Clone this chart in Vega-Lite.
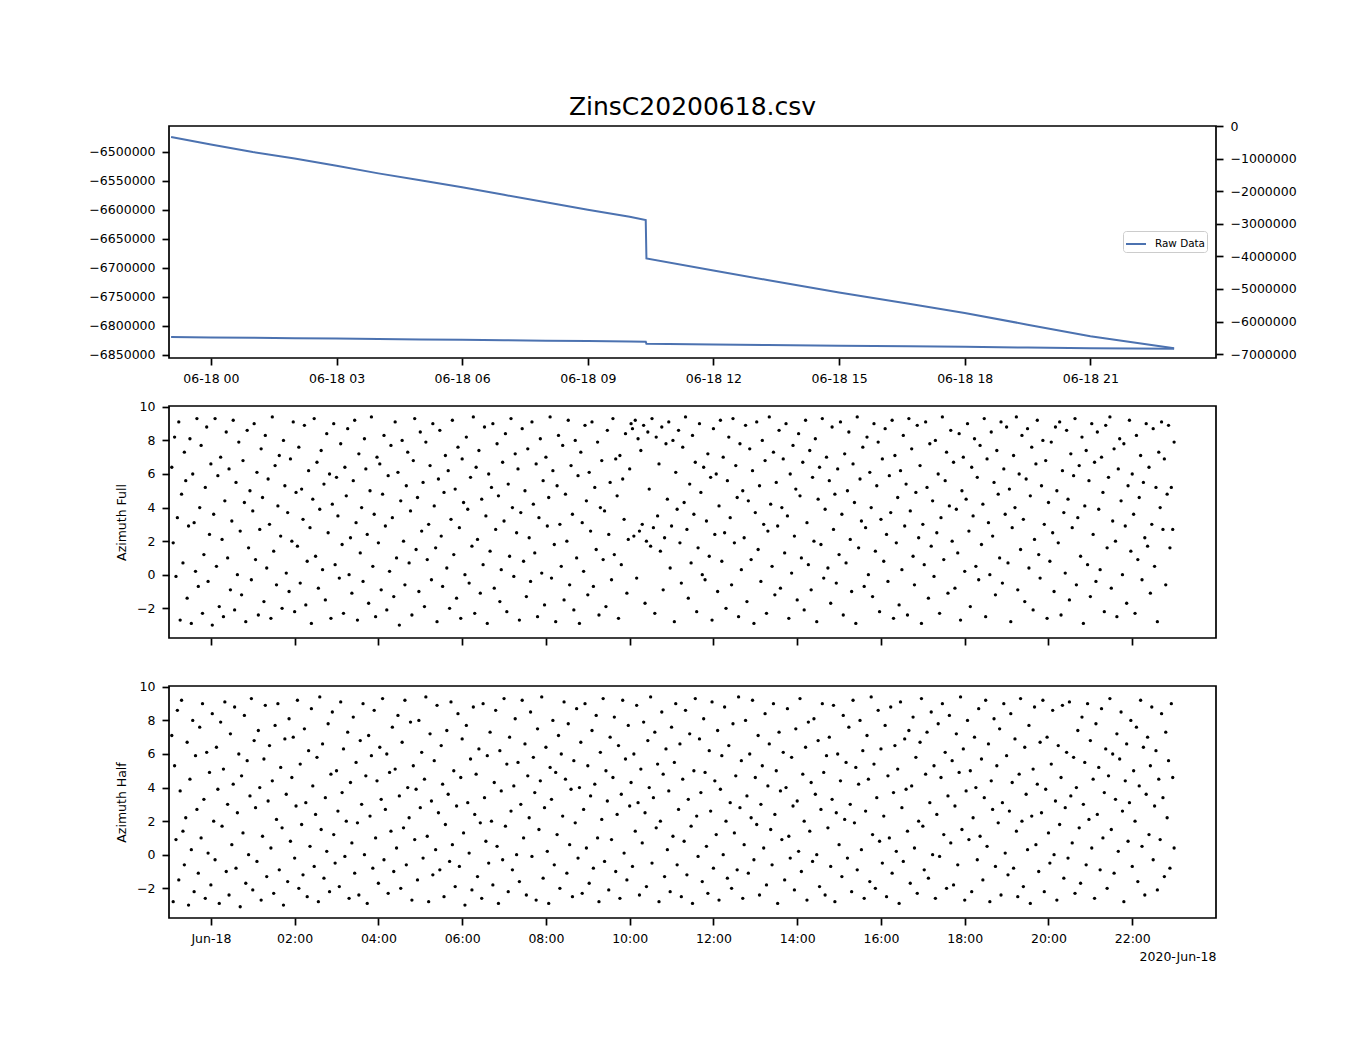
{
  "$schema": "https://vega.github.io/schema/vega-lite/v6.json",
  "padding": {"left": 88, "top": 94, "right": 5, "bottom": 5},
  "background": "white",
  "spacing": 48,
  "bounds": "flush",
  "config": {
    "font": "DejaVu Sans",
    "view": {"stroke": "black", "strokeWidth": 1.7},
    "axis": {
      "domain": false, "grid": false, "ticks": true,
      "tickColor": "black", "tickSize": 7, "tickWidth": 1.7,
      "labelFont": "DejaVu Sans", "labelFontSize": 12.5, "labelColor": "black", "labelPadding": 7,
      "titleFont": "DejaVu Sans", "titleFontSize": 12.5, "titleFontWeight": "normal", "titleColor": "black"
    }
  },
  "datasets": {
    "raw": [
      {"m": -57, "v": -6474800}, {"m": 0, "v": -6487800}, {"m": 60, "v": -6500900}, {"m": 120, "v": -6512000},
      {"m": 180, "v": -6524500}, {"m": 240, "v": -6537700}, {"m": 300, "v": -6549700}, {"m": 360, "v": -6561700},
      {"m": 420, "v": -6574700}, {"m": 480, "v": -6587400}, {"m": 540, "v": -6600400}, {"m": 600, "v": -6612400},
      {"m": 623, "v": -6618000}, {"m": 624, "v": -6684300}, {"m": 720, "v": -6705000}, {"m": 797, "v": -6721500},
      {"m": 900, "v": -6743100}, {"m": 1000, "v": -6762500}, {"m": 1080, "v": -6778500}, {"m": 1170, "v": -6798500},
      {"m": 1260, "v": -6818600}, {"m": 1380, "v": -6839200}
    ],
    "az": [
      {"m":-56,"f":6.4,"h":7.1},{"m":-54,"f":1.9,"h":-2.8},{"m":-52,"f":8.2,"h":5.3},{"m":-50,"f":-0.1,"h":0.9},{"m":-48,"f":3.4,"h":8.6},{"m":-46,"f":9.1,"h":-1.5},{"m":-44,"f":-2.7,"h":3.8},{"m":-42,"f":4.8,"h":9.2},{"m":-40,"f":0.7,"h":1.4},{"m":-38,"f":7.3,"h":-0.6},
      {"m":-36,"f":5.6,"h":2.2},{"m":-34,"f":-1.4,"h":6.7},{"m":-32,"f":2.9,"h":-3.0},{"m":-30,"f":8.1,"h":4.5},{"m":-28,"f":-2.9,"h":0.3},{"m":-26,"f":6.0,"h":8.0},{"m":-24,"f":3.1,"h":-2.2},{"m":-22,"f":0.2,"h":5.9},{"m":-20,"f":9.3,"h":2.7},{"m":-18,"f":-0.7,"h":-1.1},
      {"m":-16,"f":4.0,"h":7.6},{"m":-14,"f":7.7,"h":1.0},{"m":-12,"f":-2.3,"h":9.0},{"m":-10,"f":1.2,"h":3.3},{"m":-8,"f":5.2,"h":-2.6},{"m":-6,"f":8.8,"h":6.1},{"m":-4,"f":-0.4,"h":0.1},{"m":-2,"f":2.4,"h":4.9},{"m":0,"f":6.6,"h":-1.8},{"m":2,"f":-3.0,"h":8.4},
      {"m":4,"f":3.6,"h":2.0},{"m":6,"f":9.3,"h":-0.3},{"m":8,"f":0.5,"h":6.4},{"m":10,"f":5.9,"h":3.9},{"m":12,"f":-1.9,"h":-2.9},{"m":14,"f":7.0,"h":7.9},{"m":16,"f":2.1,"h":1.7},{"m":18,"f":-2.5,"h":5.1},{"m":20,"f":4.4,"h":9.1},{"m":22,"f":8.5,"h":-1.0},
      {"m":24,"f":1.0,"h":3.0},{"m":26,"f":6.3,"h":-2.4},{"m":28,"f":-0.9,"h":7.2},{"m":30,"f":3.2,"h":0.6},{"m":32,"f":9.2,"h":4.2},{"m":34,"f":-2.1,"h":8.8},{"m":36,"f":5.5,"h":-0.8},{"m":38,"f":0.0,"h":2.5},{"m":40,"f":7.9,"h":6.0},{"m":42,"f":2.6,"h":-3.1},
      {"m":44,"f":-1.2,"h":4.7},{"m":46,"f":6.8,"h":1.3},{"m":48,"f":4.3,"h":8.3},{"m":50,"f":-2.8,"h":-1.7},{"m":52,"f":8.6,"h":5.6},{"m":54,"f":1.6,"h":0.0},{"m":56,"f":5.0,"h":3.5},{"m":58,"f":-0.3,"h":9.3},{"m":60,"f":3.8,"h":-2.1},{"m":62,"f":9.0,"h":6.8},
      {"m":64,"f":0.9,"h":2.8},{"m":66,"f":6.1,"h":-0.4},{"m":68,"f":-2.4,"h":7.4},{"m":70,"f":2.7,"h":4.0},{"m":72,"f":7.5,"h":-2.7},{"m":74,"f":4.6,"h":1.1},{"m":76,"f":-1.6,"h":5.7},{"m":78,"f":8.3,"h":8.9},{"m":80,"f":0.4,"h":-1.3},{"m":82,"f":5.7,"h":3.2},
      {"m":84,"f":3.0,"h":6.5},{"m":86,"f":-2.6,"h":0.4},{"m":88,"f":9.4,"h":4.4},{"m":90,"f":1.4,"h":-2.3},{"m":92,"f":6.5,"h":7.7},{"m":94,"f":-0.6,"h":2.1},{"m":96,"f":4.1,"h":9.0},{"m":98,"f":7.1,"h":-0.9},{"m":100,"f":2.3,"h":5.2},{"m":102,"f":-2.0,"h":1.6},
      {"m":104,"f":8.0,"h":-3.0},{"m":106,"f":5.3,"h":6.9},{"m":108,"f":0.1,"h":3.6},{"m":110,"f":3.7,"h":-1.6},{"m":112,"f":-1.0,"h":8.1},{"m":114,"f":6.9,"h":0.8},{"m":116,"f":2.0,"h":4.6},{"m":118,"f":9.1,"h":7.0},{"m":120,"f":-2.2,"h":-0.2},{"m":122,"f":4.9,"h":2.9},
      {"m":124,"f":1.7,"h":9.2},{"m":126,"f":7.6,"h":-2.0},{"m":128,"f":-0.5,"h":5.4},{"m":130,"f":5.1,"h":1.8},{"m":132,"f":3.3,"h":-1.2},{"m":134,"f":8.9,"h":7.5},{"m":136,"f":-1.8,"h":3.1},{"m":138,"f":0.8,"h":-2.5},{"m":140,"f":6.2,"h":6.2},{"m":142,"f":2.8,"h":0.5},
      {"m":144,"f":-2.9,"h":8.7},{"m":146,"f":4.5,"h":4.1},{"m":148,"f":9.3,"h":-0.7},{"m":150,"f":1.1,"h":2.4},{"m":152,"f":6.7,"h":5.8},{"m":154,"f":-0.8,"h":-2.8},{"m":156,"f":3.9,"h":9.4},{"m":158,"f":7.4,"h":1.5},{"m":160,"f":0.3,"h":6.6},{"m":162,"f":5.4,"h":-1.4},
      {"m":164,"f":-1.5,"h":3.4},{"m":166,"f":8.4,"h":0.2},{"m":168,"f":2.5,"h":7.8},{"m":170,"f":6.0,"h":-2.2},{"m":172,"f":-2.6,"h":4.8},{"m":174,"f":4.2,"h":8.5},{"m":176,"f":9.0,"h":1.2},{"m":178,"f":0.6,"h":-0.5},{"m":180,"f":5.8,"h":5.0},{"m":182,"f":3.5,"h":2.6},
      {"m":184,"f":-0.2,"h":-1.9},{"m":186,"f":7.8,"h":9.1},{"m":188,"f":1.8,"h":3.7},{"m":190,"f":-2.3,"h":6.3},{"m":192,"f":6.4,"h":-0.1},{"m":194,"f":4.7,"h":2.0},{"m":196,"f":8.7,"h":7.3},{"m":198,"f":0.0,"h":-2.6},{"m":200,"f":2.2,"h":4.3},{"m":202,"f":-1.1,"h":0.7},
      {"m":204,"f":5.6,"h":8.2},{"m":206,"f":9.2,"h":-1.1},{"m":208,"f":3.1,"h":5.5},{"m":210,"f":-2.7,"h":1.9},{"m":212,"f":7.2,"h":-2.4},{"m":214,"f":1.3,"h":6.8},{"m":216,"f":4.0,"h":3.0},{"m":218,"f":-0.4,"h":9.0},{"m":220,"f":8.1,"h":0.0},{"m":222,"f":6.3,"h":4.7},
      {"m":224,"f":2.4,"h":-2.9},{"m":226,"f":-1.7,"h":7.1},{"m":228,"f":5.0,"h":2.3},{"m":230,"f":9.4,"h":5.9},{"m":232,"f":0.5,"h":-0.8},{"m":234,"f":3.6,"h":8.6},{"m":236,"f":-2.5,"h":1.0},{"m":238,"f":7.0,"h":4.4},{"m":240,"f":1.9,"h":-1.7},{"m":242,"f":6.6,"h":6.4},
      {"m":244,"f":-0.9,"h":3.3},{"m":246,"f":4.8,"h":9.3},{"m":248,"f":8.3,"h":-0.3},{"m":250,"f":2.9,"h":2.7},{"m":252,"f":-2.1,"h":6.0},{"m":254,"f":5.9,"h":-2.3},{"m":256,"f":0.2,"h":4.9},{"m":258,"f":7.7,"h":1.4},{"m":260,"f":3.4,"h":7.6},{"m":262,"f":-1.3,"h":-1.0},
      {"m":264,"f":9.1,"h":5.1},{"m":266,"f":1.0,"h":0.4},{"m":268,"f":6.1,"h":8.3},{"m":270,"f":-3.0,"h":3.5},{"m":272,"f":4.4,"h":-2.0},{"m":274,"f":8.0,"h":6.7},{"m":276,"f":2.0,"h":1.6},{"m":278,"f":-0.6,"h":9.2},{"m":280,"f":5.3,"h":-0.6},{"m":282,"f":7.3,"h":4.0},
      {"m":284,"f":0.7,"h":2.2},{"m":286,"f":3.8,"h":7.9},{"m":288,"f":-2.4,"h":-2.7},{"m":290,"f":6.8,"h":5.3},{"m":292,"f":9.3,"h":0.9},{"m":294,"f":1.5,"h":3.9},{"m":296,"f":4.6,"h":-1.5},{"m":298,"f":-1.0,"h":8.0},{"m":300,"f":8.5,"h":2.8},{"m":302,"f":2.6,"h":6.1},
      {"m":304,"f":5.5,"h":-0.2},{"m":306,"f":-1.9,"h":4.5},{"m":308,"f":7.9,"h":9.4},{"m":310,"f":0.9,"h":1.1},{"m":312,"f":3.0,"h":-2.8},{"m":314,"f":6.5,"h":7.2},{"m":316,"f":-0.3,"h":3.2},{"m":318,"f":9.0,"h":-1.2},{"m":320,"f":4.1,"h":5.6},{"m":322,"f":1.6,"h":0.3},
      {"m":324,"f":-2.8,"h":8.9},{"m":326,"f":5.7,"h":2.5},{"m":328,"f":8.6,"h":-0.9},{"m":330,"f":2.3,"h":6.5},{"m":332,"f":-0.7,"h":4.2},{"m":334,"f":4.9,"h":-2.5},{"m":336,"f":7.1,"h":1.8},{"m":338,"f":0.4,"h":7.4},{"m":340,"f":6.2,"h":3.6},{"m":342,"f":-2.0,"h":-0.4},
      {"m":344,"f":3.3,"h":9.1},{"m":346,"f":9.2,"h":0.6},{"m":348,"f":1.2,"h":5.0},{"m":350,"f":5.1,"h":-1.9},{"m":352,"f":-1.4,"h":2.9},{"m":354,"f":7.6,"h":8.4},{"m":356,"f":2.8,"h":-0.7},{"m":358,"f":-2.6,"h":4.6},{"m":360,"f":6.9,"h":6.9},{"m":362,"f":4.3,"h":1.3},
      {"m":364,"f":0.0,"h":-3.0},{"m":366,"f":8.2,"h":7.7},{"m":368,"f":3.9,"h":3.1},{"m":370,"f":-0.5,"h":0.1},{"m":372,"f":5.8,"h":5.7},{"m":374,"f":1.7,"h":-2.1},{"m":376,"f":9.4,"h":8.8},{"m":378,"f":-2.3,"h":2.4},{"m":380,"f":6.4,"h":4.8},{"m":382,"f":2.1,"h":-1.3},
      {"m":384,"f":7.4,"h":6.3},{"m":386,"f":-1.1,"h":1.9},{"m":388,"f":4.5,"h":-2.6},{"m":390,"f":0.6,"h":9.0},{"m":392,"f":8.8,"h":3.4},{"m":394,"f":3.5,"h":0.8},{"m":396,"f":-2.9,"h":5.9},{"m":398,"f":6.0,"h":-0.5},{"m":400,"f":1.4,"h":7.3},{"m":402,"f":5.2,"h":2.0},
      {"m":404,"f":9.0,"h":-1.8},{"m":406,"f":-0.8,"h":4.3},{"m":408,"f":2.7,"h":8.6},{"m":410,"f":7.8,"h":0.5},{"m":412,"f":4.7,"h":-2.9},{"m":414,"f":-1.6,"h":6.2},{"m":416,"f":0.3,"h":3.8},{"m":418,"f":6.7,"h":-0.3},{"m":420,"f":3.2,"h":9.3},{"m":422,"f":8.4,"h":1.7},
      {"m":424,"f":-2.2,"h":5.4},{"m":426,"f":5.4,"h":-2.2},{"m":428,"f":1.1,"h":7.0},{"m":430,"f":9.3,"h":2.6},{"m":432,"f":4.0,"h":-0.9},{"m":434,"f":-0.1,"h":4.1},{"m":436,"f":7.2,"h":8.1},{"m":438,"f":2.5,"h":0.0},{"m":440,"f":6.3,"h":5.5},{"m":442,"f":-2.7,"h":-1.6},
      {"m":444,"f":3.7,"h":3.0},{"m":446,"f":8.7,"h":9.2},{"m":448,"f":0.8,"h":1.0},{"m":450,"f":5.0,"h":6.6},{"m":452,"f":-1.3,"h":-2.4},{"m":454,"f":7.5,"h":4.7},{"m":456,"f":2.2,"h":2.2},{"m":458,"f":-0.4,"h":8.5},{"m":460,"f":9.1,"h":-0.1},{"m":462,"f":4.2,"h":5.8},
      {"m":464,"f":1.3,"h":3.7},{"m":466,"f":6.6,"h":-2.7},{"m":468,"f":-2.5,"h":7.5},{"m":470,"f":3.4,"h":1.5},{"m":472,"f":8.1,"h":4.4},{"m":474,"f":0.1,"h":9.4},{"m":476,"f":5.6,"h":-1.4},{"m":478,"f":-1.8,"h":2.8},{"m":480,"f":7.0,"h":6.4},{"m":482,"f":2.9,"h":0.2},
      {"m":484,"f":4.6,"h":-2.9},{"m":486,"f":9.4,"h":5.2},{"m":488,"f":-0.2,"h":3.3},{"m":490,"f":6.2,"h":8.0},{"m":492,"f":1.8,"h":-0.6},{"m":494,"f":-2.8,"h":4.9},{"m":496,"f":5.3,"h":1.2},{"m":498,"f":8.3,"h":7.1},{"m":500,"f":3.0,"h":-2.0},{"m":502,"f":0.5,"h":6.0},
      {"m":504,"f":7.7,"h":2.3},{"m":506,"f":-1.5,"h":9.1},{"m":508,"f":4.8,"h":4.5},{"m":510,"f":2.0,"h":-1.1},{"m":512,"f":9.2,"h":7.8},{"m":514,"f":-0.6,"h":0.6},{"m":516,"f":6.5,"h":3.9},{"m":518,"f":3.6,"h":-2.5},{"m":520,"f":-2.1,"h":5.6},{"m":522,"f":8.0,"h":1.9},
      {"m":524,"f":1.0,"h":8.7},{"m":526,"f":5.9,"h":-0.2},{"m":528,"f":-2.9,"h":4.0},{"m":530,"f":7.3,"h":6.7},{"m":532,"f":3.1,"h":-2.3},{"m":534,"f":0.2,"h":2.7},{"m":536,"f":8.9,"h":9.0},{"m":538,"f":4.4,"h":0.4},{"m":540,"f":-1.2,"h":5.3},{"m":542,"f":6.1,"h":-1.7},
      {"m":544,"f":2.6,"h":3.5},{"m":546,"f":9.1,"h":7.4},{"m":548,"f":-0.7,"h":-0.8},{"m":550,"f":5.2,"h":4.2},{"m":552,"f":1.5,"h":8.3},{"m":554,"f":7.9,"h":1.0},{"m":556,"f":-2.4,"h":-2.8},{"m":558,"f":4.0,"h":6.1},{"m":560,"f":6.8,"h":2.1},{"m":562,"f":0.9,"h":9.3},
      {"m":564,"f":3.8,"h":-0.4},{"m":566,"f":-1.9,"h":5.0},{"m":568,"f":8.6,"h":3.2},{"m":570,"f":2.4,"h":-2.1},{"m":572,"f":5.5,"h":7.0},{"m":574,"f":-0.3,"h":0.9},{"m":576,"f":9.3,"h":4.6},{"m":578,"f":1.2,"h":8.2},{"m":580,"f":6.9,"h":-1.0},{"m":582,"f":4.7,"h":2.4},
      {"m":584,"f":-2.6,"h":6.5},{"m":586,"f":7.1,"h":-2.6},{"m":588,"f":0.6,"h":3.6},{"m":590,"f":5.7,"h":9.2},{"m":592,"f":3.3,"h":0.1},{"m":594,"f":8.4,"h":5.7},{"m":596,"f":-1.1,"h":-1.5},{"m":598,"f":2.1,"h":7.7},{"m":600,"f":6.3,"h":2.9},{"m":602,"f":9.0,"h":4.3},
      {"m":604,"f":8.7,"h":-0.7},{"m":606,"f":2.3,"h":6.0},{"m":608,"f":9.2,"h":1.4},{"m":610,"f":-0.2,"h":8.9},{"m":612,"f":8.1,"h":3.1},{"m":614,"f":2.6,"h":-2.4},{"m":616,"f":7.4,"h":5.1},{"m":618,"f":3.0,"h":0.7},{"m":620,"f":8.9,"h":7.9},{"m":622,"f":-1.7,"h":2.5},
      {"m":624,"f":2.0,"h":-1.9},{"m":626,"f":8.5,"h":6.8},{"m":628,"f":5.1,"h":4.0},{"m":630,"f":1.7,"h":9.4},{"m":632,"f":9.3,"h":-0.5},{"m":634,"f":2.8,"h":3.4},{"m":636,"f":-2.3,"h":7.3},{"m":638,"f":8.2,"h":1.6},{"m":640,"f":3.5,"h":5.4},{"m":642,"f":6.6,"h":-2.8},
      {"m":644,"f":1.4,"h":2.0},{"m":646,"f":8.8,"h":8.5},{"m":648,"f":-0.9,"h":4.8},{"m":650,"f":2.2,"h":-1.3},{"m":652,"f":7.8,"h":6.3},{"m":654,"f":4.5,"h":0.3},{"m":656,"f":9.1,"h":3.8},{"m":658,"f":0.4,"h":-2.2},{"m":660,"f":2.9,"h":7.6},{"m":662,"f":8.0,"h":1.1},
      {"m":664,"f":-2.8,"h":5.5},{"m":666,"f":6.1,"h":9.0},{"m":668,"f":3.9,"h":-0.6},{"m":670,"f":8.6,"h":2.7},{"m":672,"f":1.9,"h":6.6},{"m":674,"f":-0.5,"h":-2.5},{"m":676,"f":7.6,"h":4.5},{"m":678,"f":4.3,"h":0.8},{"m":680,"f":9.4,"h":8.6},{"m":682,"f":2.7,"h":-1.2},
      {"m":684,"f":-1.4,"h":3.3},{"m":686,"f":5.4,"h":7.2},{"m":688,"f":0.7,"h":1.7},{"m":690,"f":8.3,"h":-2.9},{"m":692,"f":3.6,"h":5.0},{"m":694,"f":6.7,"h":9.3},{"m":696,"f":-2.2,"h":2.3},{"m":698,"f":1.6,"h":-0.1},{"m":700,"f":9.0,"h":6.9},{"m":702,"f":4.9,"h":3.7},
      {"m":704,"f":0.0,"h":-1.6},{"m":706,"f":6.4,"h":8.1},{"m":708,"f":-0.3,"h":4.9},{"m":710,"f":3.2,"h":0.5},{"m":712,"f":7.2,"h":-2.3},{"m":714,"f":1.1,"h":6.2},{"m":716,"f":5.8,"h":2.6},{"m":718,"f":-2.7,"h":9.1},{"m":720,"f":8.7,"h":-0.8},{"m":722,"f":2.4,"h":4.4},
      {"m":724,"f":6.0,"h":1.2},{"m":726,"f":-1.0,"h":7.4},{"m":728,"f":4.1,"h":-2.7},{"m":730,"f":9.2,"h":3.9},{"m":732,"f":0.8,"h":5.9},{"m":734,"f":7.0,"h":0.0},{"m":736,"f":2.5,"h":8.8},{"m":738,"f":-2.0,"h":2.0},{"m":740,"f":5.6,"h":-1.4},{"m":742,"f":8.2,"h":6.5},
      {"m":744,"f":3.4,"h":3.1},{"m":746,"f":-0.6,"h":-2.0},{"m":748,"f":9.3,"h":7.8},{"m":750,"f":1.9,"h":1.3},{"m":752,"f":6.5,"h":4.7},{"m":754,"f":4.6,"h":-0.9},{"m":756,"f":-2.5,"h":9.4},{"m":758,"f":7.8,"h":2.8},{"m":760,"f":0.3,"h":5.6},{"m":762,"f":5.0,"h":-2.6},
      {"m":764,"f":2.2,"h":0.6},{"m":766,"f":8.9,"h":8.0},{"m":768,"f":-1.6,"h":3.5},{"m":770,"f":4.4,"h":-1.1},{"m":772,"f":7.5,"h":6.0},{"m":774,"f":0.9,"h":2.2},{"m":776,"f":6.2,"h":9.2},{"m":778,"f":-2.9,"h":-0.3},{"m":780,"f":3.7,"h":4.6},{"m":782,"f":9.1,"h":1.8},
      {"m":784,"f":1.5,"h":7.1},{"m":786,"f":5.3,"h":-2.4},{"m":788,"f":-0.4,"h":3.0},{"m":790,"f":8.0,"h":5.3},{"m":792,"f":3.0,"h":0.4},{"m":794,"f":6.8,"h":8.4},{"m":796,"f":-2.3,"h":-1.8},{"m":798,"f":2.6,"h":4.1},{"m":800,"f":9.4,"h":6.6},{"m":802,"f":4.2,"h":1.5},
      {"m":804,"f":0.5,"h":-0.6},{"m":806,"f":7.3,"h":9.0},{"m":808,"f":-1.2,"h":2.4},{"m":810,"f":5.5,"h":5.0},{"m":812,"f":2.9,"h":-2.9},{"m":814,"f":8.6,"h":7.3},{"m":816,"f":-0.8,"h":3.8},{"m":818,"f":4.0,"h":0.9},{"m":820,"f":6.9,"h":6.1},{"m":822,"f":1.3,"h":-1.5},
      {"m":824,"f":9.0,"h":4.0},{"m":826,"f":3.5,"h":8.7},{"m":828,"f":-2.6,"h":1.1},{"m":830,"f":6.0,"h":-0.2},{"m":832,"f":0.1,"h":5.8},{"m":834,"f":7.7,"h":2.9},{"m":836,"f":2.3,"h":-2.1},{"m":838,"f":5.1,"h":7.5},{"m":840,"f":-1.5,"h":3.2},{"m":842,"f":8.4,"h":0.2},
      {"m":844,"f":4.7,"h":9.3},{"m":846,"f":1.0,"h":-1.0},{"m":848,"f":6.7,"h":4.8},{"m":850,"f":-2.1,"h":2.0},{"m":852,"f":9.2,"h":6.4},{"m":854,"f":3.1,"h":-2.7},{"m":856,"f":0.6,"h":7.9},{"m":858,"f":7.4,"h":1.4},{"m":860,"f":-0.9,"h":4.3},{"m":862,"f":5.8,"h":-0.4},
      {"m":864,"f":2.0,"h":8.1},{"m":866,"f":8.1,"h":3.6},{"m":868,"f":-2.8,"h":0.0},{"m":870,"f":4.5,"h":6.8},{"m":872,"f":6.4,"h":-1.9},{"m":874,"f":1.8,"h":2.7},{"m":876,"f":9.3,"h":9.0},{"m":878,"f":-0.2,"h":4.9},{"m":880,"f":3.9,"h":-2.4},{"m":882,"f":7.0,"h":5.9},
      {"m":884,"f":0.4,"h":1.6},{"m":886,"f":5.6,"h":7.0},{"m":888,"f":-1.7,"h":-0.7},{"m":890,"f":8.8,"h":3.3},{"m":892,"f":2.7,"h":8.9},{"m":894,"f":4.8,"h":-2.8},{"m":896,"f":-0.5,"h":2.5},{"m":898,"f":6.3,"h":6.0},{"m":900,"f":1.2,"h":0.6},{"m":902,"f":9.1,"h":4.4},
      {"m":904,"f":3.6,"h":-1.3},{"m":906,"f":-2.4,"h":8.3},{"m":908,"f":7.2,"h":2.1},{"m":910,"f":0.7,"h":5.5},{"m":912,"f":5.0,"h":-0.2},{"m":914,"f":8.5,"h":7.6},{"m":916,"f":2.1,"h":3.0},{"m":918,"f":-1.0,"h":-2.2},{"m":920,"f":6.6,"h":9.2},{"m":922,"f":4.3,"h":1.9},
      {"m":924,"f":-2.9,"h":5.2},{"m":926,"f":9.4,"h":-0.9},{"m":928,"f":1.6,"h":4.2},{"m":930,"f":5.7,"h":8.0},{"m":932,"f":3.2,"h":0.3},{"m":934,"f":7.6,"h":6.2},{"m":936,"f":-0.7,"h":-2.6},{"m":938,"f":2.8,"h":2.6},{"m":940,"f":8.2,"h":7.1},{"m":942,"f":0.0,"h":4.5},
      {"m":944,"f":6.1,"h":-1.6},{"m":946,"f":4.0,"h":9.4},{"m":948,"f":-1.3,"h":1.2},{"m":950,"f":9.0,"h":5.4},{"m":952,"f":1.4,"h":-2.0},{"m":954,"f":5.3,"h":3.4},{"m":956,"f":7.9,"h":8.6},{"m":958,"f":-2.2,"h":0.8},{"m":960,"f":3.3,"h":6.3},{"m":962,"f":6.9,"h":-0.5},
      {"m":964,"f":0.8,"h":2.3},{"m":966,"f":8.7,"h":7.7},{"m":968,"f":2.4,"h":-2.5},{"m":970,"f":-0.4,"h":4.7},{"m":972,"f":5.9,"h":1.0},{"m":974,"f":3.7,"h":8.8},{"m":976,"f":9.2,"h":-1.1},{"m":978,"f":-2.6,"h":3.7},{"m":980,"f":7.1,"h":6.5},{"m":982,"f":1.9,"h":0.2},
      {"m":984,"f":4.6,"h":5.1},{"m":986,"f":-1.8,"h":-2.9},{"m":988,"f":6.2,"h":9.1},{"m":990,"f":0.3,"h":2.8},{"m":992,"f":8.3,"h":-0.4},{"m":994,"f":2.9,"h":6.9},{"m":996,"f":5.4,"h":3.9},{"m":998,"f":-2.4,"h":1.4},{"m":1000,"f":9.3,"h":7.4},{"m":1002,"f":3.8,"h":-1.7},
      {"m":1004,"f":7.5,"h":4.1},{"m":1006,"f":1.1,"h":8.2},{"m":1008,"f":-0.6,"h":0.4},{"m":1010,"f":4.9,"h":5.8},{"m":1012,"f":8.9,"h":-2.3},{"m":1014,"f":2.2,"h":2.0},{"m":1016,"f":6.5,"h":6.7},{"m":1018,"f":-2.9,"h":9.3},{"m":1020,"f":3.0,"h":1.7},{"m":1022,"f":0.6,"h":-0.9},
      {"m":1024,"f":9.1,"h":4.8},{"m":1026,"f":5.2,"h":7.3},{"m":1028,"f":-1.4,"h":-1.4},{"m":1030,"f":7.8,"h":3.1},{"m":1032,"f":1.7,"h":8.5},{"m":1034,"f":4.4,"h":0.0},{"m":1036,"f":-0.1,"h":5.3},{"m":1038,"f":8.0,"h":-2.6},{"m":1040,"f":2.5,"h":2.4},{"m":1042,"f":6.0,"h":7.8},
      {"m":1044,"f":-2.3,"h":-0.1},{"m":1046,"f":3.4,"h":4.6},{"m":1048,"f":9.4,"h":9.0},{"m":1050,"f":0.9,"h":1.2},{"m":1052,"f":5.6,"h":6.1},{"m":1054,"f":7.3,"h":-2.0},{"m":1056,"f":-1.1,"h":3.5},{"m":1058,"f":4.1,"h":8.3},{"m":1060,"f":8.6,"h":0.7},{"m":1062,"f":2.0,"h":5.6},
      {"m":1064,"f":6.7,"h":-1.8},{"m":1066,"f":-0.8,"h":2.9},{"m":1068,"f":3.9,"h":7.2},{"m":1070,"f":1.3,"h":-0.6},{"m":1072,"f":8.4,"h":4.9},{"m":1074,"f":-2.7,"h":9.4},{"m":1076,"f":5.0,"h":1.5},{"m":1078,"f":7.0,"h":6.3},{"m":1080,"f":0.2,"h":-2.7},{"m":1082,"f":4.5,"h":3.8},
      {"m":1084,"f":9.0,"h":8.0},{"m":1086,"f":2.6,"h":0.9},{"m":1088,"f":-1.9,"h":5.0},{"m":1090,"f":6.4,"h":-2.2},{"m":1092,"f":3.5,"h":2.2},{"m":1094,"f":8.1,"h":7.0},{"m":1096,"f":0.5,"h":4.0},{"m":1098,"f":5.8,"h":-0.3},{"m":1100,"f":-0.3,"h":8.7},{"m":1102,"f":7.7,"h":1.1},
      {"m":1104,"f":1.8,"h":5.7},{"m":1106,"f":4.2,"h":-1.5},{"m":1108,"f":9.3,"h":3.4},{"m":1110,"f":-2.5,"h":9.2},{"m":1112,"f":6.9,"h":0.5},{"m":1114,"f":3.1,"h":6.6},{"m":1116,"f":0.0,"h":-2.8},{"m":1118,"f":8.5,"h":4.4},{"m":1120,"f":2.3,"h":2.7},{"m":1122,"f":5.5,"h":8.1},
      {"m":1124,"f":-1.2,"h":-0.7},{"m":1126,"f":7.4,"h":5.3},{"m":1128,"f":4.8,"h":1.9},{"m":1130,"f":1.0,"h":7.5},{"m":1132,"f":9.1,"h":-2.4},{"m":1134,"f":-0.5,"h":3.1},{"m":1136,"f":6.3,"h":9.0},{"m":1138,"f":3.6,"h":0.1},{"m":1140,"f":8.8,"h":5.9},{"m":1142,"f":0.7,"h":-1.2},
      {"m":1144,"f":5.1,"h":2.6},{"m":1146,"f":-2.8,"h":8.4},{"m":1148,"f":2.8,"h":4.3},{"m":1150,"f":7.1,"h":-0.8},{"m":1152,"f":4.0,"h":6.9},{"m":1154,"f":9.4,"h":1.4},{"m":1156,"f":-0.9,"h":-2.5},{"m":1158,"f":6.0,"h":4.8},{"m":1160,"f":1.5,"h":9.3},{"m":1162,"f":8.3,"h":2.0},
      {"m":1164,"f":3.3,"h":-1.9},{"m":1166,"f":-1.6,"h":6.4},{"m":1168,"f":5.7,"h":3.6},{"m":1170,"f":8.7,"h":0.3},{"m":1172,"f":0.4,"h":7.7},{"m":1174,"f":4.7,"h":-2.9},{"m":1176,"f":7.6,"h":2.3},{"m":1178,"f":-2.1,"h":5.1},{"m":1180,"f":2.1,"h":8.8},{"m":1182,"f":6.6,"h":0.6},
      {"m":1184,"f":9.2,"h":4.2},{"m":1186,"f":1.2,"h":-1.0},{"m":1188,"f":-0.2,"h":6.7},{"m":1190,"f":5.3,"h":2.5},{"m":1192,"f":8.0,"h":9.2},{"m":1194,"f":3.0,"h":-2.2},{"m":1196,"f":6.8,"h":3.9},{"m":1198,"f":-2.6,"h":7.0},{"m":1200,"f":4.3,"h":1.3},{"m":1202,"f":0.8,"h":-0.5},
      {"m":1204,"f":7.9,"h":5.4},{"m":1206,"f":2.5,"h":8.6},{"m":1208,"f":-1.0,"h":0.0},{"m":1210,"f":8.8,"h":3.2},{"m":1212,"f":5.0,"h":-2.7},{"m":1214,"f":1.9,"h":6.5},{"m":1216,"f":9.1,"h":1.8},{"m":1218,"f":-2.4,"h":4.6},{"m":1220,"f":6.2,"h":8.9},{"m":1222,"f":3.7,"h":-1.4},
      {"m":1224,"f":0.1,"h":2.8},{"m":1226,"f":8.6,"h":6.1},{"m":1228,"f":4.5,"h":-0.2},{"m":1230,"f":-1.5,"h":9.1},{"m":1232,"f":7.2,"h":3.5},{"m":1234,"f":2.8,"h":0.7},{"m":1236,"f":5.9,"h":5.8},{"m":1238,"f":9.3,"h":-2.3},{"m":1240,"f":-0.6,"h":4.0},{"m":1242,"f":3.4,"h":7.4},
      {"m":1244,"f":6.5,"h":1.6},{"m":1246,"f":1.1,"h":-1.7},{"m":1248,"f":8.2,"h":8.2},{"m":1250,"f":-2.9,"h":3.0},{"m":1252,"f":4.1,"h":5.5},{"m":1254,"f":7.4,"h":-0.6},{"m":1256,"f":0.6,"h":9.0},{"m":1258,"f":5.6,"h":2.1},{"m":1260,"f":-1.3,"h":6.8},{"m":1262,"f":9.0,"h":0.4},
      {"m":1264,"f":2.4,"h":4.5},{"m":1266,"f":6.7,"h":-2.6},{"m":1268,"f":-0.4,"h":7.8},{"m":1270,"f":8.5,"h":2.4},{"m":1272,"f":3.9,"h":5.2},{"m":1274,"f":0.3,"h":-0.9},{"m":1276,"f":7.0,"h":8.7},{"m":1278,"f":4.9,"h":1.0},{"m":1280,"f":-2.2,"h":3.7},{"m":1282,"f":8.9,"h":6.3},
      {"m":1284,"f":1.6,"h":-2.0},{"m":1286,"f":5.8,"h":4.7},{"m":1288,"f":9.4,"h":9.3},{"m":1290,"f":-0.8,"h":1.5},{"m":1292,"f":3.2,"h":6.0},{"m":1294,"f":7.5,"h":-1.1},{"m":1296,"f":2.0,"h":3.3},{"m":1298,"f":-2.5,"h":7.2},{"m":1300,"f":6.3,"h":0.2},{"m":1302,"f":8.1,"h":5.7},
      {"m":1304,"f":4.4,"h":8.5},{"m":1306,"f":0.0,"h":2.6},{"m":1308,"f":7.8,"h":-2.8},{"m":1310,"f":2.9,"h":4.4},{"m":1312,"f":-1.7,"h":6.6},{"m":1314,"f":5.3,"h":0.8},{"m":1316,"f":9.2,"h":3.1},{"m":1318,"f":1.4,"h":8.0},{"m":1320,"f":6.0,"h":-0.7},{"m":1322,"f":3.6,"h":5.0},
      {"m":1324,"f":-2.3,"h":2.0},{"m":1326,"f":8.3,"h":7.6},{"m":1328,"f":0.9,"h":-1.6},{"m":1330,"f":4.6,"h":4.1},{"m":1332,"f":7.1,"h":9.2},{"m":1334,"f":-0.3,"h":0.5},{"m":1336,"f":5.5,"h":6.4},{"m":1338,"f":2.2,"h":-2.4},{"m":1340,"f":9.0,"h":3.6},{"m":1342,"f":1.7,"h":7.0},
      {"m":1344,"f":6.4,"h":1.2},{"m":1346,"f":-1.1,"h":5.3},{"m":1348,"f":3.0,"h":8.8},{"m":1350,"f":8.7,"h":-0.3},{"m":1352,"f":0.5,"h":2.9},{"m":1354,"f":5.2,"h":6.2},{"m":1356,"f":-2.8,"h":-2.1},{"m":1358,"f":7.3,"h":4.5},{"m":1360,"f":4.0,"h":0.9},{"m":1362,"f":9.1,"h":8.4},
      {"m":1364,"f":2.7,"h":3.4},{"m":1366,"f":6.9,"h":-1.3},{"m":1368,"f":-0.6,"h":7.3},{"m":1370,"f":4.8,"h":2.2},{"m":1372,"f":8.9,"h":5.6},{"m":1374,"f":1.6,"h":-0.8},{"m":1376,"f":5.2,"h":9.0},{"m":1378,"f":2.7,"h":4.6},{"m":1380,"f":7.9,"h":0.4}
    ]
  },
  "vconcat": [
    {
      "width": 1047,
      "height": 232,
      "title": {"text": "ZinsC20200618.csv", "font": "DejaVu Sans", "fontSize": 25, "fontWeight": "normal", "color": "black", "anchor": "middle", "offset": 0},
      "data": {"name": "raw"},
      "layer": [
        {
          "mark": {"type": "line", "strokeWidth": 2},
          "encoding": {
            "x": {
              "field": "m", "type": "quantitative",
              "scale": {"domain": [-60, 1440], "nice": false, "zero": false},
              "axis": {"values": [0, 180, 360, 540, 720, 900, 1080, 1260], "labelExpr": "'06-18 ' + format(datum.value / 60, '02d')", "title": null}
            },
            "y": {
              "field": "v", "type": "quantitative",
              "scale": {"domain": [-6856000, -6456000], "nice": false, "zero": false},
              "axis": {"values": [-6850000, -6800000, -6750000, -6700000, -6650000, -6600000, -6550000, -6500000], "format": "d", "title": null}
            },
            "color": {
              "datum": "Raw Data",
              "scale": {"range": ["#4c72b0"]},
              "legend": {
                "title": null, "orient": "none", "legendX": 954, "legendY": 105,
                "symbolType": "stroke", "symbolStrokeWidth": 2, "symbolSize": 400,
                "labelFont": "DejaVu Sans", "labelFontSize": 10.4, "labelColor": "black", "labelOffset": 8,
                "padding": 2, "strokeColor": "#cccccc", "fillColor": "white", "cornerRadius": 3
              }
            }
          }
        },
        {
          "mark": {"type": "line", "strokeWidth": 2, "color": "#4c72b0"},
          "encoding": {
            "x": {"field": "m", "type": "quantitative"},
            "y": {
              "field": "v", "type": "quantitative",
              "scale": {"domain": [-7120000, 0], "nice": false, "zero": false},
              "axis": {"orient": "right", "values": [0, -1000000, -2000000, -3000000, -4000000, -5000000, -6000000, -7000000], "format": "d", "title": null}
            }
          }
        }
      ],
      "resolve": {"scale": {"y": "independent"}}
    },
    {
      "width": 1047,
      "height": 232,
      "data": {"name": "az"},
      "mark": {"type": "circle", "size": 11, "color": "black", "opacity": 1},
      "encoding": {
        "x": {
          "field": "m", "type": "quantitative",
          "scale": {"domain": [-60, 1440], "nice": false, "zero": false},
          "axis": {"values": [0, 120, 240, 360, 480, 600, 720, 840, 960, 1080, 1200, 1320], "labels": false, "title": null}
        },
        "y": {
          "field": "f", "type": "quantitative",
          "scale": {"domain": [-3.77, 10.05], "nice": false, "zero": false},
          "axis": {"values": [-2, 0, 2, 4, 6, 8, 10], "title": "Azimuth Full", "titlePadding": 8}
        }
      }
    },
    {
      "width": 1047,
      "height": 232,
      "data": {"name": "az"},
      "mark": {"type": "circle", "size": 11, "color": "black", "opacity": 1},
      "encoding": {
        "x": {
          "field": "m", "type": "quantitative",
          "scale": {"domain": [-60, 1440], "nice": false, "zero": false},
          "axis": {
            "values": [0, 120, 240, 360, 480, 600, 720, 840, 960, 1080, 1200, 1320],
            "labelExpr": "datum.value === 0 ? 'Jun-18' : format(datum.value / 60, '02d') + ':00'",
            "title": "2020-Jun-18", "titleAnchor": "end", "titlePadding": 6
          }
        },
        "y": {
          "field": "h", "type": "quantitative",
          "scale": {"domain": [-3.77, 10.05], "nice": false, "zero": false},
          "axis": {"values": [-2, 0, 2, 4, 6, 8, 10], "title": "Azimuth Half", "titlePadding": 8}
        }
      }
    }
  ]
}
